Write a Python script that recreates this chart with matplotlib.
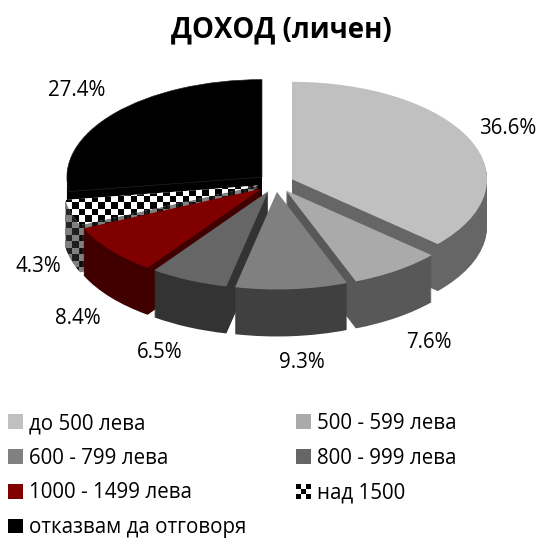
import numpy as np
import matplotlib
matplotlib.use("Agg")
import matplotlib.pyplot as plt
from matplotlib.patches import Patch, Rectangle
from matplotlib.colors import ListedColormap
from matplotlib.legend_handler import HandlerBase

categories = ["до 500 лева", "500 - 599 лева", "600 - 799 лева", "800 - 999 лева",
              "1000 - 1499 лева", "над 1500", "отказвам да отговоря"]
values = [36.6, 7.6, 9.3, 6.5, 8.4, 4.3, 27.4]
top_colors = ["#c0c0c0", "#aaaaaa", "#808080", "#666666", "#800000", "#ffffff", "#000000"]
wall_colors = ["#666666", "#585858", "#404040", "#333333", "#400000", "#808080", "#000000"]
title = "ДОХОД (личен)"

plt.rcParams["font.family"] = ["Open Sans", "DejaVu Sans"]
W, H = 540, 538
fig = plt.figure(figsize=(W / 100, H / 100), dpi=100)
ax = fig.add_axes([0, 0, 1, 1])

SQ = 2.0           # y units per pixel: flattens the pie to a tilted ellipse
cx, cy_px, R, EXPL, DEPTH = 275.6, 183, 195, 18, 47
draw_order = [6, 0, 5, 4, 1, 3, 2]
rank = {w: i for i, w in enumerate(draw_order)}
CHECK = 5
BLACK = 6
cell = 6.5


def checker(ax_, wedge, on_color, zorder):
    n = 44
    arr = np.indices((n, n)).sum(0) % 2
    x0, y0 = 40, (H - 300)
    ax_.imshow(arr, cmap=ListedColormap(["#000000", on_color]), interpolation="nearest",
               extent=(x0, x0 + n * cell, y0 * SQ, (y0 + n * cell) * SQ),
               aspect="auto", zorder=zorder, clip_path=wedge)


for k in range(DEPTH + 1):
    is_top = k == DEPTH
    cols = top_colors if is_top else wall_colors
    wedges, _ = ax.pie(values, explode=[EXPL] * len(values),
                       center=(cx, (H - cy_px - DEPTH + k) * SQ), radius=R,
                       startangle=90, counterclock=False, colors=cols,
                       wedgeprops=dict(linewidth=0))
    for i, w in enumerate(wedges):
        z = 1 + rank[i] + k / (DEPTH + 2)
        w.set_zorder(z)
        if i == CHECK:
            checker(ax, w, top_colors[i] if is_top else wall_colors[i], z + 1e-4)
        if is_top and i == BLACK:
            # faint seam between the black top face and its side wall
            w.set_edgecolor("#222222")
            w.set_linewidth(0.5)

ax.set_aspect("auto")
ax.set_xlim(0, W)
ax.set_ylim(0, H * SQ)
ax.axis("off")

# value labels
label_px = [(508, 128), (428.5, 342), (302, 362), (160, 353), (78, 318), (38, 267), (77, 90)]
fs = 14.8
for v, (x, y) in zip(values, label_px):
    ax.text(x, (H - y) * SQ, f"{v}%", ha="center", va="center", fontsize=fs,
            color="#000000", zorder=20)

ax.text(281.5, (H - 30) * SQ, title, ha="center", va="center", fontsize=19.9,
        fontweight="bold", color="#000000", zorder=20)


class CheckerHandler(HandlerBase):
    def create_artists(self, legend, orig, xd, yd, width, height, fontsize, trans):
        out = [Rectangle((-xd, -yd), width, height, fc="white", ec="none", transform=trans)]
        for r, c in [(0, 0), (1, 1), (2, 0), (2, 2), (0, 2)]:
            out.append(Rectangle((-xd + c * width / 3, -yd + r * height / 3), width / 3, height / 3,
                                 fc="black", ec="none", transform=trans))
        return out


handles = [Patch(fc=c, ec="none") for c in top_colors]
handles[CHECK] = Patch(fc="white", label="check")
col_order = [0, 2, 4, 6, 1, 3, 5]
px = fs * 100 / 72
leg = ax.legend([handles[i] for i in col_order], [categories[i] for i in col_order],
                ncol=2, loc="upper left", bbox_to_anchor=(8 / W, 1 - 413 / H),
                frameon=False, fontsize=fs, handlelength=15 / px, handleheight=15 / px,
                handletextpad=6 / px, labelspacing=13.7 / px, columnspacing=50 / px,
                borderpad=0, borderaxespad=0,
                handler_map={handles[CHECK]: CheckerHandler()})
leg.set_zorder(20)

fig.savefig("out.png", dpi=100, facecolor="white")
